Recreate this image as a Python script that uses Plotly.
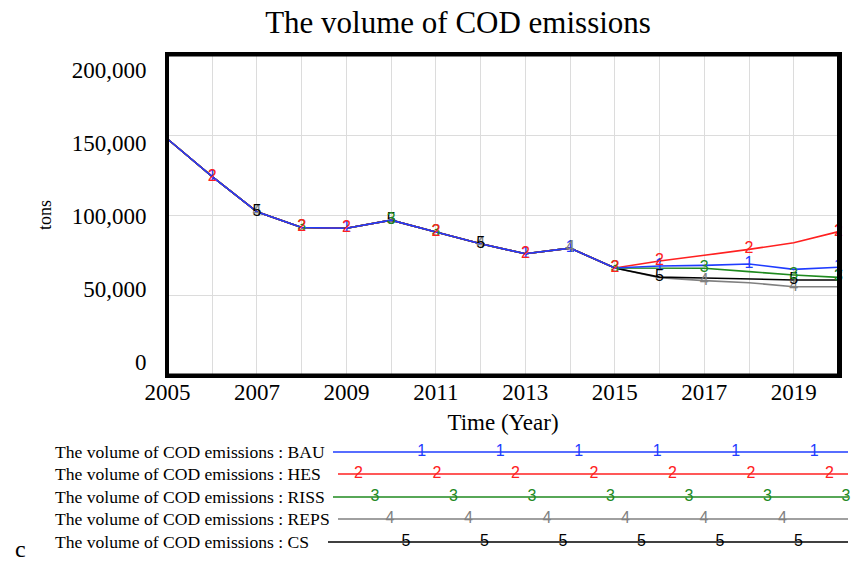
import plotly.graph_objects as go

# ---------------- data ----------------
YEARS = list(range(2005, 2021))
HISTORY = [147500, 124000, 102000, 92200, 91700, 96800, 89400, 82000, 75800, 79300, 66900]  # 2005-2015
BAU_FUTURE = [68100, 68500, 69400, 66000, 67300]    # 2016-2020
HES_FUTURE = [71200, 74800, 78500, 82700, 89600]
RISS_FUTURE = [66800, 66700, 64600, 62500, 61000]
REPS_FUTURE = [60800, 59000, 57700, 55200, 55200]
CS_FUTURE = [61200, 60600, 60000, 59400, 59400]

SCENARIOS = ["BAU", "HES", "RISS", "REPS", "CS"]
MARKER_LABELS = {"BAU": "1", "HES": "2", "RISS": "3", "REPS": "4", "CS": "5"}
MARKER_YEARS = {
    "BAU": [2006, 2009, 2013, 2014, 2016, 2018, 2020],
    "HES": [2006, 2008, 2009, 2011, 2013, 2015, 2016, 2018, 2020],
    "RISS": [2008, 2010, 2011, 2015, 2017, 2019, 2020],
    "REPS": [2007, 2012, 2014, 2017, 2019],
    "CS": [2007, 2010, 2012, 2016, 2019],
}
Y_TICKS = [0, 50000, 100000, 150000, 200000]
X_LABEL_YEARS = [2005, 2007, 2009, 2011, 2013, 2015, 2017, 2019]

SERIES = {
    "BAU": HISTORY + BAU_FUTURE,
    "HES": HISTORY + HES_FUTURE,
    "RISS": HISTORY + RISS_FUTURE,
    "REPS": HISTORY + REPS_FUTURE,
    "CS": HISTORY + CS_FUTURE,
}

# ---------------- style ----------------
COLORS = {"BAU": "#1f3cff", "HES": "#ff2020", "RISS": "#1f8a1f", "REPS": "#808080", "CS": "#000000"}
SERIF = "Liberation Serif"
SANS = "Liberation Sans"
W, H = 853, 566

def fx(p):
    return p / W

def fy(p):
    return (H - p) / H

LINE_ORDER = ["REPS", "CS", "RISS", "HES", "BAU"]
TEXT_ORDER = ["BAU", "REPS", "CS", "RISS", "HES"]

fig = go.Figure()

for s in LINE_ORDER:
    fig.add_trace(go.Scatter(x=YEARS, y=SERIES[s], mode="lines",
                             line=dict(color=COLORS[s], width=1.6),
                             hoverinfo="skip", showlegend=False, cliponaxis=False))

for s in TEXT_ORDER:
    yrs = MARKER_YEARS[s]
    vals = [SERIES[s][YEARS.index(y)] for y in yrs]
    fig.add_trace(go.Scatter(x=yrs, y=vals, mode="text",
                             text=[MARKER_LABELS[s]] * len(yrs),
                             textposition="middle center",
                             textfont=dict(family=SANS, size=16, color=COLORS[s]),
                             hoverinfo="skip", showlegend=False, cliponaxis=False))

# invisible trace so the label axis is drawn
fig.add_trace(go.Scatter(x=[YEARS[0]], y=[0], yaxis="y2", mode="markers",
                         marker=dict(opacity=0), hoverinfo="skip", showlegend=False))

# ---------------- legend strip ----------------
ROW_Y = [452, 474, 497, 519, 542]
LINE_START = [333, 338, 333, 338, 328]
LINE_END = 848
MARK_START = {"BAU": 421.7, "HES": 358.5, "RISS": 375, "REPS": 390, "CS": 406}
MARK_STEP = 78.5

annotations = []
for i, s in enumerate(SCENARIOS):
    fig.add_trace(go.Scatter(x=[LINE_START[i], LINE_END], y=[ROW_Y[i], ROW_Y[i]],
                             xaxis="x3", yaxis="y3", mode="lines",
                             line=dict(color=COLORS[s], width=1.6),
                             hoverinfo="skip", showlegend=False, cliponaxis=False))
    mx = []
    p = MARK_START[s]
    while p <= LINE_END:
        mx.append(p)
        p += MARK_STEP
    fig.add_trace(go.Scatter(x=mx, y=[ROW_Y[i]] * len(mx), xaxis="x3", yaxis="y3",
                             mode="text", text=[MARKER_LABELS[s]] * len(mx),
                             textposition="middle center",
                             textfont=dict(family=SANS, size=16, color=COLORS[s]),
                             hoverinfo="skip", showlegend=False, cliponaxis=False))
    annotations.append(dict(xref="x3", yref="y3", x=53, y=ROW_Y[i],
                            text="The volume of COD emissions : " + s,
                            showarrow=False, xanchor="left", yanchor="middle",
                            font=dict(family=SERIF, size=17.6, color="black")))

annotations.append(dict(xref="x3", yref="y3", x=20, y=549, text="c", showarrow=False,
                        xanchor="center", yanchor="middle",
                        font=dict(family=SERIF, size=24, color="black")))

fig.update_layout(
    width=W, height=H,
    margin=dict(l=0, r=0, t=0, b=0, autoexpand=False),
    paper_bgcolor="white", plot_bgcolor="white",
    title=dict(text="The volume of COD emissions", x=fx(458), xanchor="center",
               y=fy(22), yanchor="middle",
               font=dict(family=SERIF, size=31, color="black")),
    xaxis=dict(domain=[fx(167.5), fx(838.5)], range=[2005, 2020],
               tickvals=YEARS,
               ticktext=[str(y) if y in X_LABEL_YEARS else "" for y in YEARS],
               showgrid=True, gridcolor="#dcdcdc", gridwidth=1,
               showline=True, mirror=True, linecolor="black", linewidth=3,
               zeroline=False, ticks="", automargin=False,
               ticklabelstandoff=-6,
               tickfont=dict(family=SERIF, size=23, color="black"),
               title=dict(text="Time (Year)", standoff=11,
                          font=dict(family=SERIF, size=23, color="black")),
               anchor="y"),
    yaxis=dict(domain=[fy(375), fy(55)], range=[0, 200000], tickvals=Y_TICKS,
               showticklabels=False, showgrid=True, gridcolor="#dcdcdc", gridwidth=1,
               showline=True, mirror=True, linecolor="black", linewidth=3,
               zeroline=False, ticks="", anchor="x", automargin=False),
    yaxis2=dict(overlaying="y", side="left", anchor="x", automargin=False,
                range=[-8904, 210274], tickvals=Y_TICKS, tickformat=",",
                showgrid=False, zeroline=False, showline=False,
                ticks="", ticklabelstandoff=20,
                tickfont=dict(family=SERIF, size=23, color="black"),
                title=dict(text="tons", standoff=15,
                           font=dict(family=SERIF, size=18, color="black"))),
    xaxis3=dict(domain=[0, 1], range=[0, W], visible=False, anchor="y3",
                fixedrange=True, automargin=False),
    yaxis3=dict(domain=[0, (H - 430) / H], range=[H, 430], visible=False,
                anchor="x3", fixedrange=True, automargin=False),
    shapes=[dict(type="rect", xref="x domain", yref="y domain", x0=0, x1=1, y0=0, y1=1,
                 line=dict(color="black", width=3), fillcolor="rgba(0,0,0,0)",
                 layer="above")],
    annotations=annotations,
)

fig.write_html(
    "out.html",
    config={"displayModeBar": False},
    post_script="document.body.style.margin='0';document.body.style.overflow='hidden';"
                "document.documentElement.style.overflow='hidden';",
)
